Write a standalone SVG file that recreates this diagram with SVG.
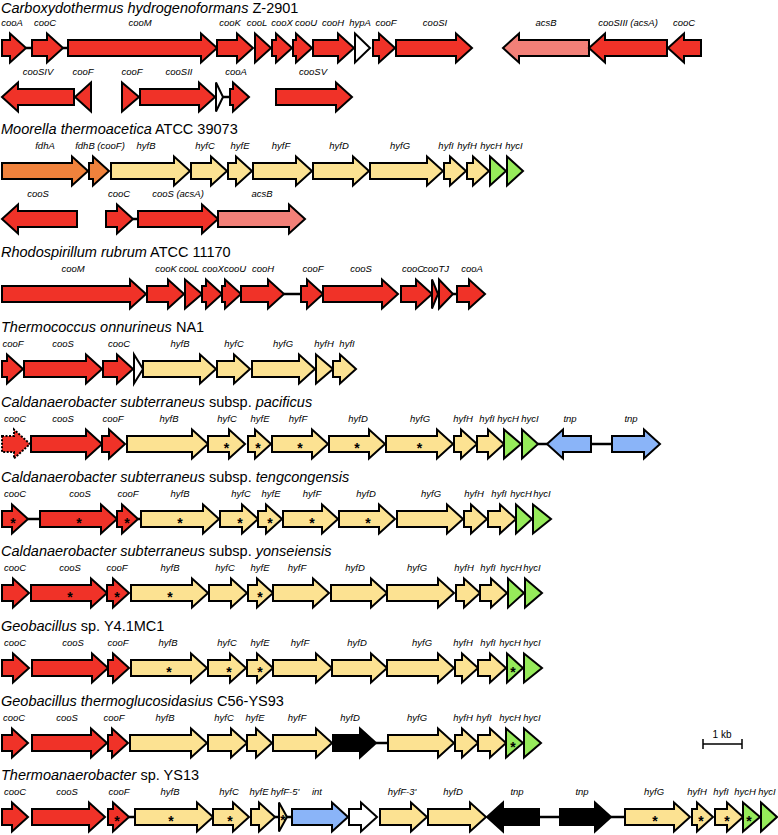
<svg xmlns="http://www.w3.org/2000/svg" width="778" height="835" viewBox="0 0 778 835">
<style>
polygon{stroke:#000;stroke-width:2;stroke-linejoin:miter}
.r{fill:#F03228}.y{fill:#FCE292}.g{fill:#96EB5A}.b{fill:#8AB4F8}.o{fill:#F0823C}.p{fill:#F28078}.k{fill:#000}.w{fill:#fff}
.d{stroke-dasharray:2 1.5}
.l{font-family:"Liberation Sans",Arial,sans-serif;font-style:italic;font-size:9.5px;text-anchor:middle;fill:#000}
.t{font-family:"Liberation Sans",Arial,sans-serif;font-size:14.5px;fill:#000}
.i{font-style:italic}
.s{font-family:"Liberation Sans",Arial,sans-serif;font-weight:bold;font-size:14px;text-anchor:middle;fill:#000}
.c line{stroke:#000;stroke-width:2.5}
</style>
<g id="titles">
<text class="t" x="1" y="13"><tspan class="i">Carboxydothermus hydrogenoformans</tspan> Z-2901</text>
<text class="t" x="1" y="134"><tspan class="i">Moorella thermoacetica</tspan> ATCC 39073</text>
<text class="t" x="1" y="257"><tspan class="i">Rhodospirillum rubrum</tspan> ATCC 11170</text>
<text class="t" x="1" y="332"><tspan class="i">Thermococcus onnurineus</tspan> NA1</text>
<text class="t" x="1" y="407"><tspan class="i">Caldanaerobacter subterraneus</tspan> subsp. <tspan class="i">pacificus</tspan></text>
<text class="t" x="1" y="482"><tspan class="i">Caldanaerobacter subterraneus</tspan> subsp. <tspan class="i">tengcongensis</tspan></text>
<text class="t" x="1" y="556"><tspan class="i">Caldanaerobacter subterraneus</tspan> subsp. <tspan class="i">yonseiensis</tspan></text>
<text class="t" x="1" y="631"><tspan class="i">Geobacillus</tspan> sp. Y4.1MC1</text>
<text class="t" x="1" y="706"><tspan class="i">Geobacillus thermoglucosidasius</tspan> C56-YS93</text>
<text class="t" x="1" y="780"><tspan class="i">Thermoanaerobacter</tspan> sp. YS13</text>
</g>
<g id="connectors" class="c">
<line x1="26" y1="48" x2="32" y2="48"/><line x1="63" y1="48" x2="68" y2="48"/>
<line x1="223" y1="97" x2="230" y2="97"/>
<line x1="133" y1="219" x2="138" y2="219"/>
<line x1="284" y1="294" x2="301" y2="294"/><line x1="453" y1="294" x2="457" y2="294"/>
<line x1="538" y1="444" x2="547" y2="444"/><line x1="591" y1="444" x2="612" y2="444"/>
<line x1="28" y1="519" x2="40" y2="519"/><line x1="138" y1="519" x2="141" y2="519"/>
<line x1="376" y1="743" x2="388" y2="743"/>
<line x1="129" y1="817" x2="135" y2="817"/><line x1="275" y1="817" x2="279" y2="817"/><line x1="287" y1="817" x2="292" y2="817"/>
<line x1="539" y1="817" x2="560" y2="817"/><line x1="611" y1="817" x2="625" y2="817"/>
</g>
<!-- Row 1 -->
<g id="ch-cooA"><polygon class="r" points="2,40 10,40 10,33.5 26,48 10,62.5 10,56 2,56"/><text class="l" x="12" y="26">cooA</text></g>
<g id="ch-cooC"><polygon class="r" points="32,40 47,40 47,33.5 63,48 47,62.5 47,56 32,56"/><text class="l" x="45" y="26">cooC</text></g>
<g id="ch-cooM"><polygon class="r" points="68,40 201,40 201,33.5 217,48 201,62.5 201,56 68,56"/><text class="l" x="140" y="26">cooM</text></g>
<g id="ch-cooK"><polygon class="r" points="217,40 237,40 237,33.5 253,48 237,62.5 237,56 217,56"/><text class="l" x="230" y="26">cooK</text></g>
<g id="ch-cooL"><polygon class="r" points="255,33.5 271,48 255,62.5"/><text class="l" x="257" y="26">cooL</text></g>
<g id="ch-cooX"><polygon class="r" points="272,40 276,40 276,33.5 292,48 276,62.5 276,56 272,56"/><text class="l" x="282" y="26">cooX</text></g>
<g id="ch-cooU"><polygon class="r" points="293,40 296,40 296,33.5 312,48 296,62.5 296,56 293,56"/><text class="l" x="306" y="26">cooU</text></g>
<g id="ch-cooH"><polygon class="r" points="313,40 338,40 338,33.5 354,48 338,62.5 338,56 313,56"/><text class="l" x="333" y="26">cooH</text></g>
<g id="ch-hypA"><polygon class="w" points="355,33.5 370,48 355,62.5"/><text class="l" x="360" y="26">hypA</text></g>
<g id="ch-cooF"><polygon class="r" points="373,40 379,40 379,33.5 395,48 379,62.5 379,56 373,56"/><text class="l" x="386" y="26">cooF</text></g>
<g id="ch-cooSI"><polygon class="r" points="396,40 456,40 456,33.5 472,48 456,62.5 456,56 396,56"/><text class="l" x="435" y="26">cooSI</text></g>
<g id="ch-acsB"><polygon class="p" points="589,40 519,40 519,33.5 503,48 519,62.5 519,56 589,56"/><text class="l" x="546" y="26">acsB</text></g>
<g id="ch-cooSIII"><polygon class="r" points="667,40 605,40 605,33.5 589,48 605,62.5 605,56 667,56"/><text class="l" x="628" y="26">cooSIII (acsA)</text></g>
<g id="ch-cooC2"><polygon class="r" points="701,40 684,40 684,33.5 668,48 684,62.5 684,56 701,56"/><text class="l" x="684" y="26">cooC</text></g>
<!-- Row 1b -->
<g id="ch-cooSIV"><polygon class="r" points="74,89 18,89 18,82.5 2,97 18,111.5 18,105 74,105"/><text class="l" x="38" y="75">cooSIV</text></g>
<g id="ch-cooF2"><polygon class="r" points="91,82.5 75,97 91,111.5"/><text class="l" x="83" y="75">cooF</text></g>
<g id="ch-cooF3"><polygon class="r" points="122,82.5 139,97 122,111.5"/><text class="l" x="132" y="75">cooF</text></g>
<g id="ch-cooSII"><polygon class="r" points="140,89 199,89 199,82.5 215,97 199,111.5 199,105 140,105"/><text class="l" x="179" y="75">cooSII</text></g>
<g id="ch-orf1"><polygon class="w" points="216,82.5 223,97 216,111.5"/></g>
<g id="ch-cooA2"><polygon class="r" points="230,89 233,89 233,82.5 249,97 233,111.5 233,105 230,105"/><text class="l" x="236" y="75">cooA</text></g>
<g id="ch-cooSV"><polygon class="r" points="276,89 336,89 336,82.5 352,97 336,111.5 336,105 276,105"/><text class="l" x="313" y="75">cooSV</text></g>
<!-- Row 2 Moorella -->
<g id="mt-fdhA"><polygon class="o" points="2,163 72,163 72,156.5 88,171 72,185.5 72,179 2,179"/><text class="l" x="45" y="149">fdhA</text></g>
<g id="mt-fdhB"><polygon class="o" points="89,163 93,163 93,156.5 109,171 93,185.5 93,179 89,179"/><text class="l" x="100" y="149">fdhB (cooF)</text></g>
<g id="mt-hyfB"><polygon class="y" points="111,163 174,163 174,156.5 190,171 174,185.5 174,179 111,179"/><text class="l" x="146" y="149">hyfB</text></g>
<g id="mt-hyfC"><polygon class="y" points="191,163 211,163 211,156.5 227,171 211,185.5 211,179 191,179"/><text class="l" x="205" y="149">hyfC</text></g>
<g id="mt-hyfE"><polygon class="y" points="228,163 236,163 236,156.5 252,171 236,185.5 236,179 228,179"/><text class="l" x="240" y="149">hyfE</text></g>
<g id="mt-hyfF"><polygon class="y" points="253,163 296,163 296,156.5 312,171 296,185.5 296,179 253,179"/><text class="l" x="281" y="149">hyfF</text></g>
<g id="mt-hyfD"><polygon class="y" points="313,163 353,163 353,156.5 369,171 353,185.5 353,179 313,179"/><text class="l" x="339" y="149">hyfD</text></g>
<g id="mt-hyfG"><polygon class="y" points="370,163 427,163 427,156.5 443,171 427,185.5 427,179 370,179"/><text class="l" x="400" y="149">hyfG</text></g>
<g id="mt-hyfI"><polygon class="y" points="444,163 450,163 450,156.5 466,171 450,185.5 450,179 444,179"/><text class="l" x="446" y="149">hyfI</text></g>
<g id="mt-hyfH"><polygon class="y" points="467,163 473,163 473,156.5 489,171 473,185.5 473,179 467,179"/><text class="l" x="467" y="149">hyfH</text></g>
<g id="mt-hycH"><polygon class="g" points="490,156.5 506,171 490,185.5"/><text class="l" x="491" y="149">hycH</text></g>
<g id="mt-hycI"><polygon class="g" points="507,156.5 523,171 507,185.5"/><text class="l" x="514" y="149">hycI</text></g>
<!-- Row 2b -->
<g id="mt-cooS"><polygon class="r" points="77,211 18,211 18,204.5 2,219 18,233.5 18,227 77,227"/><text class="l" x="38" y="197">cooS</text></g>
<g id="mt-cooC"><polygon class="r" points="106,211 117,211 117,204.5 133,219 117,233.5 117,227 106,227"/><text class="l" x="119" y="197">cooC</text></g>
<g id="mt-cooSacsA"><polygon class="r" points="138,211 202,211 202,204.5 218,219 202,233.5 202,227 138,227"/><text class="l" x="178" y="197">cooS (acsA)</text></g>
<g id="mt-acsB"><polygon class="p" points="218,211 289,211 289,204.5 305,219 289,233.5 289,227 218,227"/><text class="l" x="262" y="197">acsB</text></g>
<!-- Row 3 Rhodospirillum -->
<g id="rr-cooM"><polygon class="r" points="2,286 130,286 130,279.5 146,294 130,308.5 130,302 2,302"/><text class="l" x="73" y="272">cooM</text></g>
<g id="rr-cooK"><polygon class="r" points="147,286 168,286 168,279.5 184,294 168,308.5 168,302 147,302"/><text class="l" x="166" y="272">cooK</text></g>
<g id="rr-cooL"><polygon class="r" points="185,279.5 202,294 185,308.5"/><text class="l" x="189" y="272">cooL</text></g>
<g id="rr-cooX"><polygon class="r" points="202,286 206,286 206,279.5 222,294 206,308.5 206,302 202,302"/><text class="l" x="213" y="272">cooX</text></g>
<g id="rr-cooU"><polygon class="r" points="222,286 225,286 225,279.5 241,294 225,308.5 225,302 222,302"/><text class="l" x="235" y="272">cooU</text></g>
<g id="rr-cooH"><polygon class="r" points="241,286 268,286 268,279.5 284,294 268,308.5 268,302 241,302"/><text class="l" x="263" y="272">cooH</text></g>
<g id="rr-cooF"><polygon class="r" points="301,286 307,286 307,279.5 323,294 307,308.5 307,302 301,302"/><text class="l" x="313" y="272">cooF</text></g>
<g id="rr-cooS"><polygon class="r" points="323,286 382,286 382,279.5 398,294 382,308.5 382,302 323,302"/><text class="l" x="361" y="272">cooS</text></g>
<g id="rr-cooC"><polygon class="r" points="401,286 416,286 416,279.5 432,294 416,308.5 416,302 401,302"/><text class="l" x="413" y="272">cooC</text></g>
<g id="rr-cooTJ"><polygon class="r" points="432,279.5 438,294 432,308.5"/><polygon class="r" points="439,279.5 453,294 439,308.5"/><text class="l" x="436" y="272">cooTJ</text></g>
<g id="rr-cooA"><polygon class="r" points="457,286 469,286 469,279.5 485,294 469,308.5 469,302 457,302"/><text class="l" x="472" y="272">cooA</text></g>
<!-- Row 4 Thermococcus -->
<g id="to-cooF"><polygon class="r" points="2,361 7,361 7,354.5 23,369 7,383.5 7,377 2,377"/><text class="l" x="13" y="347">cooF</text></g>
<g id="to-cooS"><polygon class="r" points="24,361 86,361 86,354.5 102,369 86,383.5 86,377 24,377"/><text class="l" x="63" y="347">cooS</text></g>
<g id="to-cooC"><polygon class="r" points="103,361 117,361 117,354.5 133,369 117,383.5 117,377 103,377"/><text class="l" x="119" y="347">cooC</text></g>
<g id="to-orf"><polygon class="w" points="134,354.5 143,369 134,383.5"/></g>
<g id="to-hyfB"><polygon class="y" points="143,361 200,361 200,354.5 216,369 200,383.5 200,377 143,377"/><text class="l" x="180" y="347">hyfB</text></g>
<g id="to-hyfC"><polygon class="y" points="217,361 234,361 234,354.5 250,369 234,383.5 234,377 217,377"/><text class="l" x="234" y="347">hyfC</text></g>
<g id="to-hyfG"><polygon class="y" points="252,361 299,361 299,354.5 315,369 299,383.5 299,377 252,377"/><text class="l" x="283" y="347">hyfG</text></g>
<g id="to-hyfH"><polygon class="y" points="316,354.5 333,369 316,383.5"/><text class="l" x="324" y="347">hyfH</text></g>
<g id="to-hyfI"><polygon class="y" points="333,361 340,361 340,354.5 356,369 340,383.5 340,377 333,377"/><text class="l" x="347" y="347">hyfI</text></g>
<!-- Row 5 pacificus -->
<g id="pa-cooC"><polygon class="r d" points="2,436 14,436 14,429.5 30,444 14,458.5 14,452 2,452"/><text class="l" x="15" y="422">cooC</text></g>
<g id="pa-cooS"><polygon class="r" points="31,436 86,436 86,429.5 102,444 86,458.5 86,452 31,452"/><text class="l" x="63" y="422">cooS</text></g>
<g id="pa-cooF"><polygon class="r" points="102,436 109,436 109,429.5 125,444 109,458.5 109,452 102,452"/><text class="l" x="113" y="422">cooF</text></g>
<g id="pa-hyfB"><polygon class="y" points="127,436 192,436 192,429.5 208,444 192,458.5 192,452 127,452"/><text class="l" x="169" y="422">hyfB</text></g>
<g id="pa-hyfC"><polygon class="y" points="208,436 229,436 229,429.5 245,444 229,458.5 229,452 208,452"/><text class="l" x="227" y="422">hyfC</text><text class="s" x="226.5" y="453">*</text></g>
<g id="pa-hyfE"><polygon class="y" points="248,436 255,436 255,429.5 271,444 255,458.5 255,452 248,452"/><text class="l" x="260" y="422">hyfE</text><text class="s" x="258" y="453">*</text></g>
<g id="pa-hyfF"><polygon class="y" points="272,436 312,436 312,429.5 328,444 312,458.5 312,452 272,452"/><text class="l" x="298" y="422">hyfF</text><text class="s" x="300" y="453">*</text></g>
<g id="pa-hyfD"><polygon class="y" points="329,436 369,436 369,429.5 385,444 369,458.5 369,452 329,452"/><text class="l" x="358" y="422">hyfD</text><text class="s" x="357" y="453">*</text></g>
<g id="pa-hyfG"><polygon class="y" points="386,436 437,436 437,429.5 453,444 437,458.5 437,452 386,452"/><text class="l" x="420" y="422">hyfG</text><text class="s" x="419.5" y="453">*</text></g>
<g id="pa-hyfH"><polygon class="y" points="454,436 461,436 461,429.5 477,444 461,458.5 461,452 454,452"/><text class="l" x="463" y="422">hyfH</text></g>
<g id="pa-hyfI"><polygon class="y" points="477,436 488,436 488,429.5 504,444 488,458.5 488,452 477,452"/><text class="l" x="487" y="422">hyfI</text></g>
<g id="pa-hycH"><polygon class="g" points="504,429.5 521,444 504,458.5"/><text class="l" x="508" y="422">hycH</text></g>
<g id="pa-hycI"><polygon class="g" points="522,429.5 538,444 522,458.5"/><text class="l" x="530" y="422">hycI</text></g>
<g id="pa-tnp1"><polygon class="b" points="591,436 563,436 563,429.5 547,444 563,458.5 563,452 591,452"/><text class="l" x="570" y="422">tnp</text></g>
<g id="pa-tnp2"><polygon class="b" points="612,436 644,436 644,429.5 660,444 644,458.5 644,452 612,452"/><text class="l" x="631" y="422">tnp</text></g>
<!-- Row 6 tengcongensis -->
<g id="te-cooC"><polygon class="r" points="2,511 12,511 12,504.5 28,519 12,533.5 12,527 2,527"/><text class="l" x="15" y="497">cooC</text><text class="s" x="13" y="528">*</text></g>
<g id="te-cooS"><polygon class="r" points="40,511 101,511 101,504.5 117,519 101,533.5 101,527 40,527"/><text class="l" x="80" y="497">cooS</text><text class="s" x="79" y="528">*</text></g>
<g id="te-cooF"><polygon class="r" points="117,511 122,511 122,504.5 138,519 122,533.5 122,527 117,527"/><text class="l" x="128" y="497">cooF</text><text class="s" x="127" y="528">*</text></g>
<g id="te-hyfB"><polygon class="y" points="141,511 203,511 203,504.5 219,519 203,533.5 203,527 141,527"/><text class="l" x="180" y="497">hyfB</text><text class="s" x="180" y="528">*</text></g>
<g id="te-hyfC"><polygon class="y" points="220,511 242,511 242,504.5 258,519 242,533.5 242,527 220,527"/><text class="l" x="241" y="497">hyfC</text><text class="s" x="240" y="528">*</text></g>
<g id="te-hyfE"><polygon class="y" points="258,511 266,511 266,504.5 282,519 266,533.5 266,527 258,527"/><text class="l" x="271" y="497">hyfE</text><text class="s" x="270" y="528">*</text></g>
<g id="te-hyfF"><polygon class="y" points="283,511 322,511 322,504.5 338,519 322,533.5 322,527 283,527"/><text class="l" x="312" y="497">hyfF</text><text class="s" x="312" y="528">*</text></g>
<g id="te-hyfD"><polygon class="y" points="339,511 379,511 379,504.5 395,519 379,533.5 379,527 339,527"/><text class="l" x="366" y="497">hyfD</text><text class="s" x="368" y="528">*</text></g>
<g id="te-hyfG"><polygon class="y" points="397,511 447,511 447,504.5 463,519 447,533.5 447,527 397,527"/><text class="l" x="431" y="497">hyfG</text></g>
<g id="te-hyfH"><polygon class="y" points="464,511 471,511 471,504.5 487,519 471,533.5 471,527 464,527"/><text class="l" x="474" y="497">hyfH</text></g>
<g id="te-hyfI"><polygon class="y" points="488,511 500,511 500,504.5 516,519 500,533.5 500,527 488,527"/><text class="l" x="499" y="497">hyfI</text></g>
<g id="te-hycH"><polygon class="g" points="516,504.5 532,519 516,533.5"/><text class="l" x="521" y="497">hycH</text></g>
<g id="te-hycI"><polygon class="g" points="533,504.5 551,519 533,533.5"/><text class="l" x="542" y="497">hycI</text></g>
<!-- Row 7 yonseiensis -->
<g id="yo-cooC"><polygon class="r" points="2,585 13,585 13,578.5 29,593 13,607.5 13,601 2,601"/><text class="l" x="15" y="571">cooC</text></g>
<g id="yo-cooS"><polygon class="r" points="31,585 91,585 91,578.5 107,593 91,607.5 91,601 31,601"/><text class="l" x="70" y="571">cooS</text><text class="s" x="70" y="602">*</text></g>
<g id="yo-cooF"><polygon class="r" points="107,585 113,585 113,578.5 129,593 113,607.5 113,601 107,601"/><text class="l" x="117" y="571">cooF</text><text class="s" x="117" y="602">*</text></g>
<g id="yo-hyfB"><polygon class="y" points="131,585 192,585 192,578.5 208,593 192,607.5 192,601 131,601"/><text class="l" x="170" y="571">hyfB</text><text class="s" x="170" y="602">*</text></g>
<g id="yo-hyfC"><polygon class="y" points="209,585 231,585 231,578.5 247,593 231,607.5 231,601 209,601"/><text class="l" x="225" y="571">hyfC</text></g>
<g id="yo-hyfE"><polygon class="y" points="248,585 257,585 257,578.5 273,593 257,607.5 257,601 248,601"/><text class="l" x="260" y="571">hyfE</text><text class="s" x="260" y="602">*</text></g>
<g id="yo-hyfF"><polygon class="y" points="273,585 313,585 313,578.5 329,593 313,607.5 313,601 273,601"/><text class="l" x="297" y="571">hyfF</text></g>
<g id="yo-hyfD"><polygon class="y" points="331,585 371,585 371,578.5 387,593 371,607.5 371,601 331,601"/><text class="l" x="355" y="571">hyfD</text></g>
<g id="yo-hyfG"><polygon class="y" points="387,585 438,585 438,578.5 454,593 438,607.5 438,601 387,601"/><text class="l" x="417" y="571">hyfG</text></g>
<g id="yo-hyfH"><polygon class="y" points="456,585 464,585 464,578.5 480,593 464,607.5 464,601 456,601"/><text class="l" x="464" y="571">hyfH</text></g>
<g id="yo-hyfI"><polygon class="y" points="480,585 491,585 491,578.5 507,593 491,607.5 491,601 480,601"/><text class="l" x="488" y="571">hyfI</text></g>
<g id="yo-hycH"><polygon class="g" points="508,578.5 524,593 508,607.5"/><text class="l" x="511" y="571">hycH</text></g>
<g id="yo-hycI"><polygon class="g" points="525,578.5 542,593 525,607.5"/><text class="l" x="532" y="571">hycI</text></g>
<!-- Row 8 Geobacillus sp. -->
<g id="gs-cooC"><polygon class="r" points="2,660 13,660 13,653.5 29,668 13,682.5 13,676 2,676"/><text class="l" x="15" y="646">cooC</text></g>
<g id="gs-cooS"><polygon class="r" points="32,660 92,660 92,653.5 108,668 92,682.5 92,676 32,676"/><text class="l" x="73" y="646">cooS</text></g>
<g id="gs-cooF"><polygon class="r" points="108,660 113,660 113,653.5 129,668 113,682.5 113,676 108,676"/><text class="l" x="118" y="646">cooF</text></g>
<g id="gs-hyfB"><polygon class="y" points="131,660 191,660 191,653.5 207,668 191,682.5 191,676 131,676"/><text class="l" x="168" y="646">hyfB</text><text class="s" x="169" y="677">*</text></g>
<g id="gs-hyfC"><polygon class="y" points="208,660 230,660 230,653.5 246,668 230,682.5 230,676 208,676"/><text class="l" x="227" y="646">hyfC</text><text class="s" x="229" y="677">*</text></g>
<g id="gs-hyfE"><polygon class="y" points="247,660 257,660 257,653.5 273,668 257,682.5 257,676 247,676"/><text class="l" x="260" y="646">hyfE</text><text class="s" x="260" y="677">*</text></g>
<g id="gs-hyfF"><polygon class="y" points="273,660 316,660 316,653.5 332,668 316,682.5 316,676 273,676"/><text class="l" x="300" y="646">hyfF</text></g>
<g id="gs-hyfD"><polygon class="y" points="332,660 371,660 371,653.5 387,668 371,682.5 371,676 332,676"/><text class="l" x="357" y="646">hyfD</text></g>
<g id="gs-hyfG"><polygon class="y" points="387,660 438,660 438,653.5 454,668 438,682.5 438,676 387,676"/><text class="l" x="422" y="646">hyfG</text></g>
<g id="gs-hyfH"><polygon class="y" points="455,660 462,660 462,653.5 478,668 462,682.5 462,676 455,676"/><text class="l" x="463" y="646">hyfH</text></g>
<g id="gs-hyfI"><polygon class="y" points="478,660 490,660 490,653.5 506,668 490,682.5 490,676 478,676"/><text class="l" x="488" y="646">hyfI</text></g>
<g id="gs-hycH"><polygon class="g" points="507,653.5 523,668 507,682.5"/><text class="l" x="510" y="646">hycH</text><text class="s" x="513" y="677">*</text></g>
<g id="gs-hycI"><polygon class="g" points="524,653.5 542,668 524,682.5"/><text class="l" x="532" y="646">hycI</text></g>
<!-- Row 9 G. thermoglucosidasius -->
<g id="gt-cooC"><polygon class="r" points="2,735 12,735 12,728.5 28,743 12,757.5 12,751 2,751"/><text class="l" x="14" y="721">cooC</text></g>
<g id="gt-cooS"><polygon class="r" points="32,735 91,735 91,728.5 107,743 91,757.5 91,751 32,751"/><text class="l" x="67" y="721">cooS</text></g>
<g id="gt-cooF"><polygon class="r" points="108,735 112,735 112,728.5 128,743 112,757.5 112,751 108,751"/><text class="l" x="114" y="721">cooF</text></g>
<g id="gt-hyfB"><polygon class="y" points="130,735 191,735 191,728.5 207,743 191,757.5 191,751 130,751"/><text class="l" x="165" y="721">hyfB</text></g>
<g id="gt-hyfC"><polygon class="y" points="208,735 231,735 231,728.5 247,743 231,757.5 231,751 208,751"/><text class="l" x="224" y="721">hyfC</text></g>
<g id="gt-hyfE"><polygon class="y" points="247,735 256,735 256,728.5 272,743 256,757.5 256,751 247,751"/><text class="l" x="255" y="721">hyfE</text></g>
<g id="gt-hyfF"><polygon class="y" points="273,735 316,735 316,728.5 332,743 316,757.5 316,751 273,751"/><text class="l" x="297" y="721">hyfF</text></g>
<g id="gt-hyfD"><polygon class="k" points="333,735 360,735 360,728.5 376,743 360,757.5 360,751 333,751"/><text class="l" x="350" y="721">hyfD</text></g>
<g id="gt-hyfG"><polygon class="y" points="388,735 438,735 438,728.5 454,743 438,757.5 438,751 388,751"/><text class="l" x="417" y="721">hyfG</text></g>
<g id="gt-hyfH"><polygon class="y" points="455,735 462,735 462,728.5 478,743 462,757.5 462,751 455,751"/><text class="l" x="463" y="721">hyfH</text></g>
<g id="gt-hyfI"><polygon class="y" points="478,735 490,735 490,728.5 506,743 490,757.5 490,751 478,751"/><text class="l" x="484" y="721">hyfI</text></g>
<g id="gt-hycH"><polygon class="g" points="506,728.5 523,743 506,757.5"/><text class="l" x="510" y="721">hycH</text><text class="s" x="513" y="752">*</text></g>
<g id="gt-hycI"><polygon class="g" points="524,728.5 541,743 524,757.5"/><text class="l" x="532" y="721">hycI</text></g>
<g id="scalebar"><path d="M703,744 H742 M703,739 V749 M742,739 V749" stroke="#000" stroke-width="1.5" fill="none"/><text x="722" y="738" font-family="Liberation Sans, Arial, sans-serif" font-size="10" text-anchor="middle">1 kb</text></g>
<!-- Row 10 Thermoanaerobacter -->
<g id="ys-cooC"><polygon class="r" points="2,809 12,809 12,802.5 28,817 12,831.5 12,825 2,825"/><text class="l" x="15" y="795">cooC</text></g>
<g id="ys-cooS"><polygon class="r" points="32,809 89,809 89,802.5 105,817 89,831.5 89,825 32,825"/><text class="l" x="67" y="795">cooS</text></g>
<g id="ys-cooF"><polygon class="r" points="108,809 113,809 113,802.5 129,817 113,831.5 113,825 108,825"/><text class="l" x="119" y="795">cooF</text><text class="s" x="117" y="826">*</text></g>
<g id="ys-hyfB"><polygon class="y" points="135,809 197,809 197,802.5 213,817 197,831.5 197,825 135,825"/><text class="l" x="170" y="795">hyfB</text><text class="s" x="171" y="826">*</text></g>
<g id="ys-hyfC"><polygon class="y" points="213,809 233,809 233,802.5 249,817 233,831.5 233,825 213,825"/><text class="l" x="229" y="795">hyfC</text><text class="s" x="230" y="826">*</text></g>
<g id="ys-hyfE"><polygon class="y" points="251,809 259,809 259,802.5 275,817 259,831.5 259,825 251,825"/><text class="l" x="259" y="795">hyfE</text></g>
<g id="ys-hyfF5"><polygon class="y" points="279,802.5 287,817 279,831.5"/><text class="l" x="285" y="795">hyfF-5'</text><text class="s" x="283" y="825" font-size="10">*</text></g>
<g id="ys-int"><polygon class="b" points="292,809 332,809 332,802.5 348,817 332,831.5 332,825 292,825"/><text class="l" x="317" y="795">int</text></g>
<g id="ys-orf"><polygon class="w" points="349,809 361,809 361,802.5 377,817 361,831.5 361,825 349,825"/></g>
<g id="ys-hyfF3"><polygon class="y" points="380,809 411,809 411,802.5 427,817 411,831.5 411,825 380,825"/><text class="l" x="402" y="795">hyfF-3'</text></g>
<g id="ys-hyfD"><polygon class="y" points="428,809 470,809 470,802.5 486,817 470,831.5 470,825 428,825"/><text class="l" x="453" y="795">hyfD</text></g>
<g id="ys-tnp1"><polygon class="k" points="539,809 503,809 503,802.5 487,817 503,831.5 503,825 539,825"/><text class="l" x="517" y="795">tnp</text></g>
<g id="ys-tnp2"><polygon class="k" points="560,809 595,809 595,802.5 611,817 595,831.5 595,825 560,825"/><text class="l" x="582" y="795">tnp</text></g>
<g id="ys-hyfG"><polygon class="y" points="625,809 674,809 674,802.5 690,817 674,831.5 674,825 625,825"/><text class="l" x="654" y="795">hyfG</text><text class="s" x="655" y="826">*</text></g>
<g id="ys-hyfH"><polygon class="y" points="692,809 697,809 697,802.5 713,817 697,831.5 697,825 692,825"/><text class="l" x="697" y="795">hyfH</text><text class="s" x="701" y="826">*</text></g>
<g id="ys-hyfI"><polygon class="y" points="715,809 727,809 727,802.5 743,817 727,831.5 727,825 715,825"/><text class="l" x="721" y="795">hyfI</text><text class="s" x="727" y="826">*</text></g>
<g id="ys-hycH"><polygon class="g" points="743,802.5 760,817 743,831.5"/><text class="l" x="745" y="795">hycH</text><text class="s" x="749" y="826">*</text></g>
<g id="ys-hycI"><polygon class="g" points="761,802.5 777,817 761,831.5"/><text class="l" x="767" y="795">hycI</text></g>
</svg>
